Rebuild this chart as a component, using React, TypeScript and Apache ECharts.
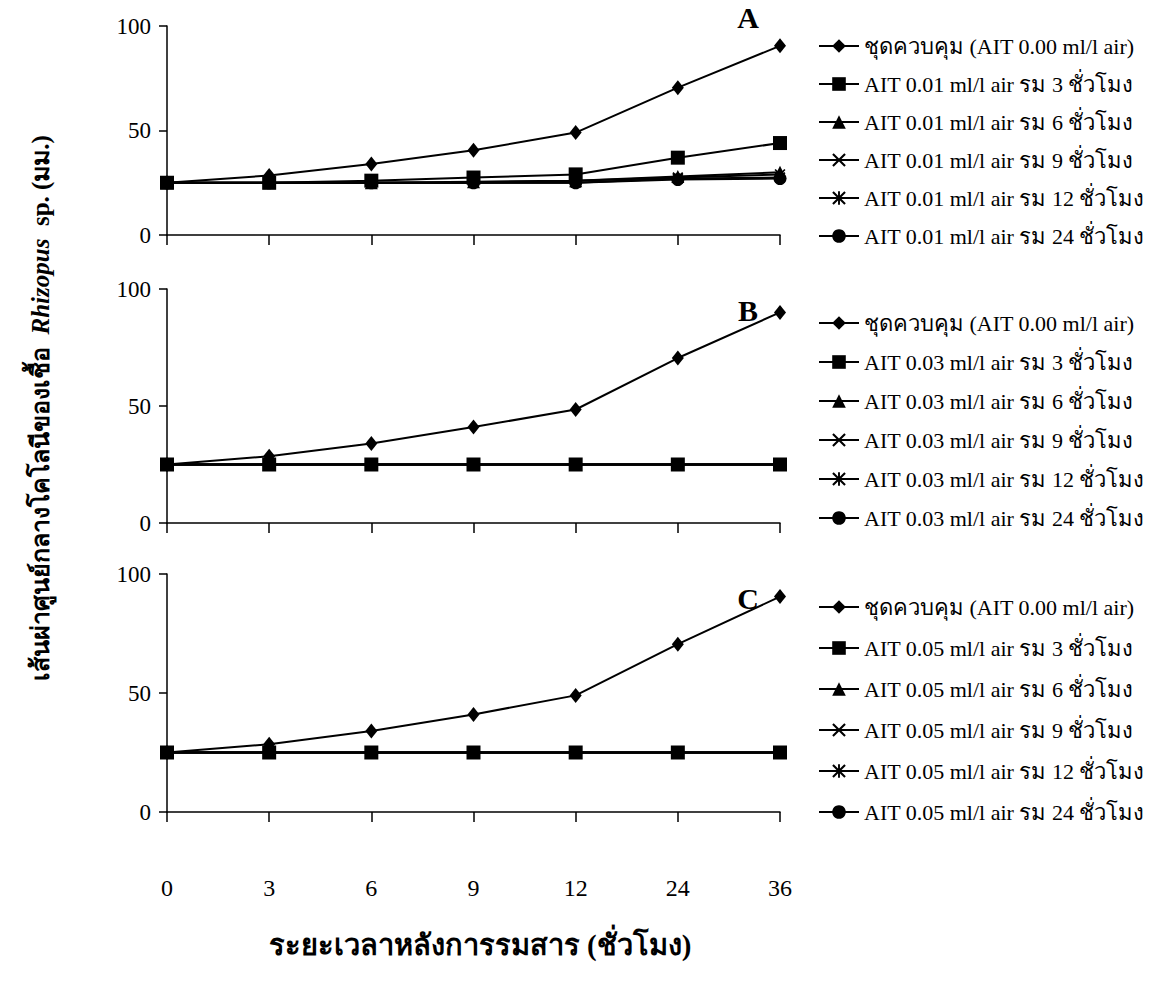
import React, { useEffect, useRef } from "react";
import * as echarts from "echarts";

const categories = ["0", "3", "6", "9", "12", "24", "36"];

const controlName = "ชุดควบคุม (AIT 0.00 ml/l air)";
const hoursA = ["3", "6", "9", "12", "24"];

// Panel A (AIT 0.01 ml/l air)
const aControl = [25, 28.5, 34, 40.5, 49, 70.5, 90.5];
const a3h = [25, 25, 26, 27.5, 29, 37, 44];
const a6h = [25, 25, 25, 25.5, 26, 28, 30];
const a9h = [25, 25, 25, 25, 26, 27.5, 29];
const a12h = [25, 25, 25, 25, 25, 27, 27.5];
const a24h = [25, 25, 25, 25, 25, 26.5, 27];

// Panel B (AIT 0.03 ml/l air)
const bControl = [25, 28.5, 34, 41, 48.5, 70.5, 90];
const b3h = [25, 25, 25, 25, 25, 25, 25];
const b6h = [25, 25, 25, 25, 25, 25, 25];
const b9h = [25, 25, 25, 25, 25, 25, 25];
const b12h = [25, 25, 25, 25, 25, 25, 25];
const b24h = [25, 25, 25, 25, 25, 25, 25];

// Panel C (AIT 0.05 ml/l air)
const cControl = [25, 28.5, 34, 41, 49, 70.5, 90.5];
const c3h = [25, 25, 25, 25, 25, 25, 25];
const c6h = [25, 25, 25, 25, 25, 25, 25];
const c9h = [25, 25, 25, 25, 25, 25, 25];
const c12h = [25, 25, 25, 25, 25, 25, 25];
const c24h = [25, 25, 25, 25, 25, 25, 25];

const yTicks = [0, 50, 100];
const panelLetters = ["A", "B", "C"];
const doses = ["0.01", "0.03", "0.05"];

const FONT = '"Liberation Serif", "Times New Roman", serif';

const X_PATH =
  "path://M0,1.1L1.1,0L5,3.9L8.9,0L10,1.1L6.1,5L10,8.9L8.9,10L5,6.1L1.1,10L0,8.9L3.9,5Z";
const STAR_PATH =
  "path://M0,1.1L1.1,0L5,3.9L8.9,0L10,1.1L6.1,5L10,8.9L8.9,10L5,6.1L1.1,10L0,8.9L3.9,5ZM4.3,0L5.7,0L5.7,10L4.3,10Z";

const symbols: any[] = [
  { symbol: "diamond", size: [12, 15] },
  { symbol: "rect", size: 14 },
  { symbol: "triangle", size: 13 },
  { symbol: X_PATH, size: 11 },
  { symbol: STAR_PATH, size: 11 },
  { symbol: "circle", size: 13 },
];

const panels = [
  [aControl, a3h, a6h, a9h, a12h, a24h],
  [bControl, b3h, b6h, b9h, b12h, b24h],
  [cControl, c3h, c6h, c9h, c12h, c24h],
];

const grids = [
  { left: 167, top: 26, width: 613, height: 209 },
  { left: 167, top: 289, width: 613, height: 234 },
  { left: 167, top: 574, width: 613, height: 238 },
];

const legendTops = [35, 312, 596];
const legendGaps = [16, 17, 19];
const letterYs = [17, 310, 598];

function seriesName(p: number, k: number) {
  if (k === 0) return controlName;
  return `AIT ${doses[p]} ml/l air รม ${hoursA[k - 1]} ชั่วโมง`;
}

export default function App() {
  const ref = useRef<HTMLDivElement>(null);
  useEffect(() => {
    if (!ref.current) return;
    const chart = echarts.init(ref.current, undefined, { renderer: "svg" });

    const series: any[] = [];
    panels.forEach((arrs, p) => {
      arrs.forEach((data, k) => {
        series.push({
          type: "line",
          name: seriesName(p, k),
          xAxisIndex: p,
          yAxisIndex: p,
          data,
          symbol: symbols[k].symbol,
          symbolSize: symbols[k].size,
          showSymbol: true,
          lineStyle: { color: "#000", width: 2 },
          itemStyle: { color: "#000", borderColor: "#000", borderWidth: 0 },
          z: 10 - k,
        });
      });
    });

    const legends = panels.map((arrs, p) => ({
      orient: "vertical",
      left: 818,
      top: legendTops[p],
      padding: 0,
      itemWidth: 40,
      itemHeight: 17,
      itemGap: legendGaps[p],
      selectedMode: false,
      textStyle: { fontFamily: FONT, fontSize: 22, color: "#000" },
      data: arrs.map((_, k) => seriesName(p, k)),
    }));

    const option: any = {
      animation: false,
      backgroundColor: "#fff",
      grid: grids,
      legend: legends,
      xAxis: grids.map((_, p) => ({
        type: "category",
        gridIndex: p,
        data: categories,
        boundaryGap: false,
        axisLine: { lineStyle: { color: "#000", width: 1.5 } },
        axisTick: { show: true, length: 10, inside: false, lineStyle: { color: "#000", width: 1.5 } },
        axisLabel: {
          show: p === 2,
          margin: 64,
          fontFamily: FONT,
          fontSize: 24,
          color: "#000",
        },
        splitLine: { show: false },
      })),
      yAxis: grids.map((_, p) => ({
        type: "value",
        gridIndex: p,
        min: yTicks[0],
        max: yTicks[yTicks.length - 1],
        interval: yTicks[1] - yTicks[0],
        axisLine: { show: true, lineStyle: { color: "#000", width: 1.5 } },
        axisTick: { show: true, length: 8, inside: false, lineStyle: { color: "#000", width: 1.5 } },
        axisLabel: { margin: 16, fontFamily: FONT, fontSize: 23, color: "#000" },
        splitLine: { show: false },
      })),
      graphic: [
        ...panelLetters.map((t, p) => ({
          type: "text",
          x: 748,
          y: letterYs[p],
          style: {
            text: t,
            fontFamily: FONT,
            fontSize: 30,
            fontWeight: "bold",
            fill: "#000",
            textAlign: "center",
            textVerticalAlign: "middle",
          },
        })),
        {
          type: "text",
          x: 480,
          y: 945,
          style: {
            text: "ระยะเวลาหลังการรมสาร (ชั่วโมง)",
            fontFamily: FONT,
            fontSize: 29,
            fontWeight: "bold",
            fill: "#000",
            textAlign: "center",
            textVerticalAlign: "middle",
          },
        },
        {
          type: "text",
          x: 40,
          y: 408,
          rotation: Math.PI / 2,
          style: {
            text: "{a|เส้นผ่าศูนย์กลางโคโลนีของเชื้อ  }{b|Rhizopus}{a|  sp. (มม.)}",
            textAlign: "center",
            textVerticalAlign: "middle",
            fill: "#000",
            rich: {
              a: { fontFamily: FONT, fontSize: 25, fontWeight: "bold", fill: "#000" },
              b: { fontFamily: FONT, fontSize: 25, fontWeight: "bold", fontStyle: "italic", fill: "#000" },
            },
          },
        },
      ],
      series,
    };

    chart.setOption(option);
    return () => chart.dispose();
  }, []);

  return (
    <div
      ref={ref}
      style={{ position: "absolute", left: 0, top: 0, width: 1168, height: 998, background: "#fff" }}
    />
  );
}
